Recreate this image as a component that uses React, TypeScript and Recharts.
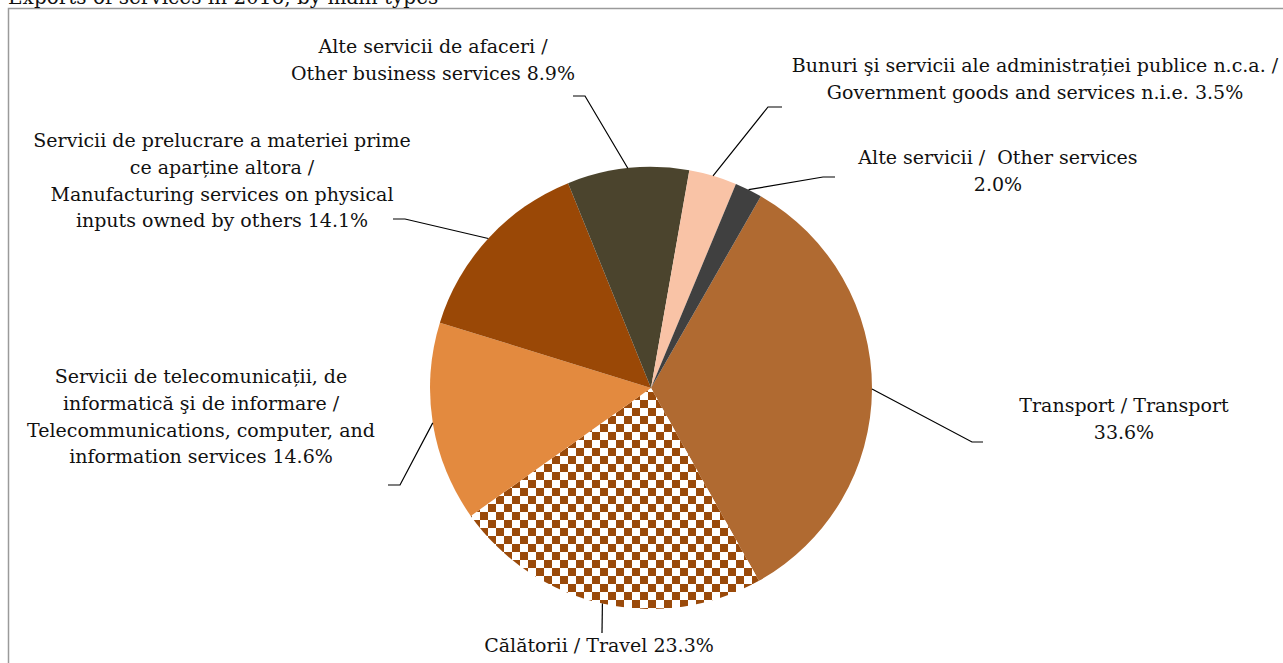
import React from "react";
import { PieChart, Pie, Cell } from "recharts";

const categories = [
  "Transport / Transport",
  "Călătorii / Travel",
  "Servicii de telecomunicații, de informatică şi de informare / Telecommunications, computer, and information services",
  "Servicii de prelucrare a materiei prime ce aparține altora / Manufacturing services on physical inputs owned by others",
  "Alte servicii de afaceri / Other business services",
  "Bunuri şi servicii ale administrației publice n.c.a. / Government goods and services n.i.e.",
  "Alte servicii / Other services",
];
const shares = [33.6, 23.3, 14.6, 14.1, 8.9, 3.5, 2.0];
const labelLines: string[][] = [
  ["Transport / Transport", "33.6%"],
  ["Călătorii / Travel 23.3%"],
  [
    "Servicii de telecomunicații, de",
    "informatică şi de informare /",
    "Telecommunications, computer, and",
    "information services 14.6%",
  ],
  [
    "Servicii de prelucrare a materiei prime",
    "ce aparține altora /",
    "Manufacturing services on physical",
    "inputs owned by others 14.1%",
  ],
  ["Alte servicii de afaceri /", "Other business services 8.9%"],
  [
    "Bunuri şi servicii ale administrației publice n.c.a. /",
    "Government goods and services n.i.e. 3.5%",
  ],
  ["Alte servicii /\u00A0 Other services", "2.0%"],
];
const title = "Exports of services in 2016, by main types";

const colors = [
  "#B06A31",
  "url(#checker)",
  "#E38A3F",
  "#9A4806",
  "#4B442D",
  "#F9C3A6",
  "#404040",
];

// label layout: text center x, first baseline y, leader elbow and end points
const labelLayout = [
  { tx: 1124, ty: 412, elbow: [972, 442], end: [983, 442] },
  { tx: 599, ty: 652, elbow: [602, 633], end: [602, 633] },
  { tx: 201, ty: 383, elbow: [400, 485], end: [388, 485] },
  { tx: 222, ty: 147, elbow: [405, 219], end: [393, 219] },
  { tx: 433, ty: 53, elbow: [585, 96], end: [573, 96] },
  { tx: 1035, ty: 72, elbow: [768, 107], end: [782, 107] },
  { tx: 998, ty: 164, elbow: [823, 177], end: [835, 177] },
];

const data = categories.map((name, i) => ({ name, value: shares[i] }));

const FONT = "'DejaVu Serif', serif";
const FS = 19;
const LH = 26.8;
const RAD = Math.PI / 180;

const renderLabel = (props: any) => {
  const { cx, cy, midAngle, outerRadius, index } = props;
  const sx = cx + outerRadius * Math.cos(-midAngle * RAD);
  const sy = cy + outerRadius * Math.sin(-midAngle * RAD);
  const L = labelLayout[index];
  const lines = labelLines[index];
  return (
    <g key={`lab-${index}`}>
      <polyline
        points={`${sx},${sy} ${L.elbow[0]},${L.elbow[1]} ${L.end[0]},${L.end[1]}`}
        fill="none"
        stroke="#000"
        strokeWidth={1.2}
      />
      <text
        x={L.tx}
        y={L.ty}
        textAnchor="middle"
        fontFamily={FONT}
        fontSize={FS}
        fill="#111"
      >
        {lines.map((ln, j) => (
          <tspan key={j} x={L.tx} dy={j === 0 ? 0 : LH}>
            {ln}
          </tspan>
        ))}
      </text>
    </g>
  );
};

export default function App() {
  return (
    <div
      style={{
        position: "absolute",
        left: 0,
        top: 0,
        width: 1283,
        height: 663,
        background: "#fff",
        overflow: "hidden",
      }}
    >
      <svg width={0} height={0} style={{ position: "absolute" }}>
        <defs>
          <pattern
            id="checker"
            x={0}
            y={0}
            width={16}
            height={16}
            patternUnits="userSpaceOnUse"
          >
            <rect x={0} y={0} width={16} height={16} fill="#ffffff" />
            <rect x={0} y={0} width={8} height={8} fill="#9A4A0A" />
            <rect x={8} y={8} width={8} height={8} fill="#9A4A0A" />
          </pattern>
        </defs>
      </svg>
      <svg
        width={1283}
        height={663}
        style={{ position: "absolute", left: 0, top: 0 }}
      >
        <rect
          x={8.5}
          y={8.5}
          width={1300}
          height={700}
          fill="none"
          stroke="#9a9a9a"
          strokeWidth={1.5}
        />
        <text x={8} y={4} fontFamily={FONT} fontSize={20} fill="#111">
          {title}
        </text>
      </svg>
      <div style={{ position: "absolute", left: 0, top: 0 }}>
        <PieChart
          width={1283}
          height={663}
          margin={{ top: 0, right: 0, bottom: 0, left: 0 }}
        >
          <Pie
            data={data}
            dataKey="value"
            nameKey="name"
            cx={651}
            cy={388}
            outerRadius={221}
            startAngle={60.2}
            endAngle={-299.8}
            stroke="none"
            label={renderLabel}
            labelLine={false}
            isAnimationActive={false}
          >
            {data.map((d, i) => (
              <Cell key={d.name} fill={colors[i]} />
            ))}
          </Pie>
        </PieChart>
      </div>
    </div>
  );
}
